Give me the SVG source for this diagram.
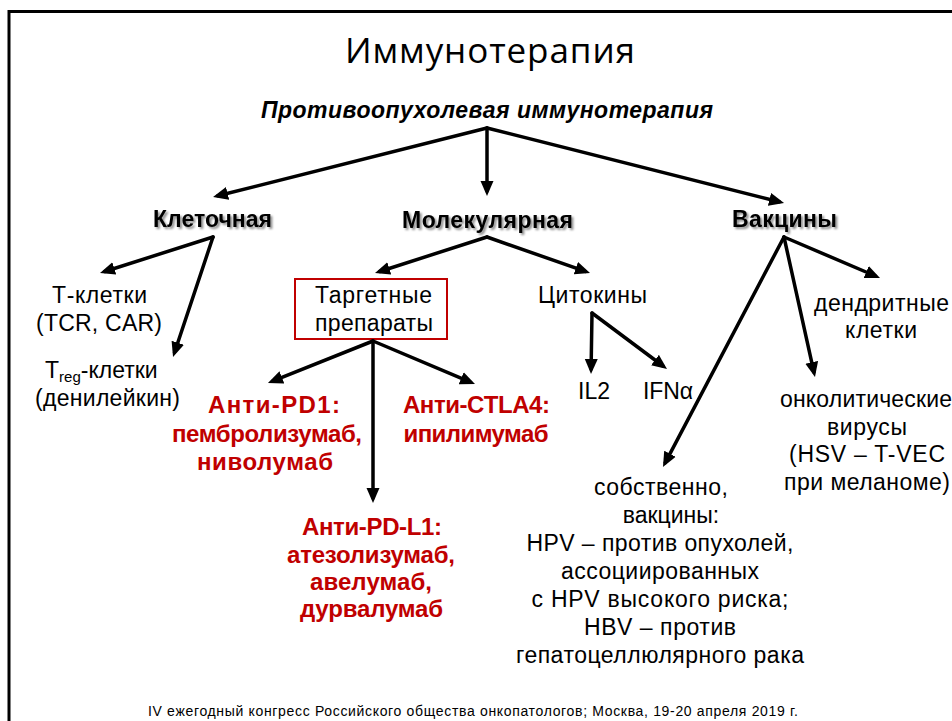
<svg xmlns="http://www.w3.org/2000/svg" width="952" height="721" viewBox="0 0 952 721">
<defs>
<style>
text{font-family:"Liberation Sans",Arial,sans-serif;fill:#000}
.t{font-size:23px;text-anchor:middle}
.h{font-size:23px;font-weight:bold;text-anchor:middle;filter:url(#sh)}
.r{font-size:24px;font-weight:bold;fill:#C00000;text-anchor:middle}
.c{stroke:#000;stroke-width:3.5;fill:none;stroke-linecap:round;marker-end:url(#ah)}
</style>
<marker id="ah" markerUnits="userSpaceOnUse" markerWidth="16" markerHeight="14" refX="10" refY="6.5" orient="auto" viewBox="0 0 16 13">
<path d="M0,0 L15,6.5 L0,13 z" fill="#000"/>
</marker>
<filter id="sh" x="-10%" y="-30%" width="130%" height="170%">
<feDropShadow dx="2" dy="2" stdDeviation="1.2" flood-color="#000" flood-opacity="0.45"/>
</filter>
</defs>
<rect x="0" y="0" width="952" height="721" fill="#fff"/>
<rect x="9" y="11.5" width="980" height="740" fill="none" stroke="#000" stroke-width="3"/>

<g id="title">
<text x="490" y="63" style="font-family:'Open Sans','Liberation Sans',sans-serif;font-size:35px" text-anchor="middle" textLength="290">Иммунотерапия</text>
</g>
<g id="root">
<text x="487" y="118" style="font-size:23px;font-weight:bold;font-style:italic" text-anchor="middle" textLength="452">Противоопухолевая  иммунотерапия</text>
</g>
<g id="cellular"><text class="h" x="212.5" y="227" textLength="119">Клеточная</text></g>
<g id="molecular"><text class="h" x="487.5" y="228" textLength="171">Молекулярная</text></g>
<g id="vaccines"><text class="h" x="784.5" y="227" textLength="105">Вакцины</text></g>

<g id="tcells">
<text class="t" x="99.5" y="303" textLength="95">Т-клетки</text>
<text class="t" x="99" y="331" textLength="126">(TCR, CAR)</text>
</g>
<g id="treg">
<text x="45" y="378" style="font-size:23px">T<tspan font-size="15" dy="4">reg</tspan><tspan dy="-4">-клетки</tspan></text>
<text class="t" x="107.5" y="406" textLength="145">(денилейкин)</text>
</g>
<g id="targeted">
<rect x="295" y="279" width="152" height="60" fill="none" stroke="#C00000" stroke-width="2"/>
<text class="t" x="373.5" y="303" textLength="117">Таргетные</text>
<text class="t" x="374" y="331" textLength="118">препараты</text>
</g>
<g id="cytokines"><text class="t" x="592.5" y="303" textLength="109">Цитокины</text></g>
<g id="il2"><text class="t" x="594" y="399" textLength="32">IL2</text></g>
<g id="ifna"><text class="t" x="668" y="399" textLength="50">IFNα</text></g>
<g id="dendritic">
<text class="t" x="881.5" y="311" textLength="135">дендритные</text>
<text class="t" x="881" y="338" textLength="72">клетки</text>
</g>
<g id="oncolytic">
<text class="t" x="866" y="407" textLength="172">онколитические</text>
<text class="t" x="867" y="435" textLength="80">вирусы</text>
<text class="t" x="867" y="462" textLength="156">(HSV – T-VEC</text>
<text class="t" x="867" y="490" textLength="166">при меланоме)</text>
</g>
<g id="proper">
<text class="t" x="661" y="495" textLength="134">собственно,</text>
<text class="t" x="671" y="523">вакцины:</text>
<text class="t" x="660" y="551" textLength="267">HPV – против опухолей,</text>
<text class="t" x="660" y="579" textLength="198">ассоциированных</text>
<text class="t" x="660" y="607" textLength="257">с HPV высокого риска;</text>
<text class="t" x="660" y="635" textLength="152">HBV – против</text>
<text class="t" x="660" y="663" textLength="288">гепатоцеллюлярного рака</text>
</g>
<g id="pd1">
<text class="r" x="274" y="413" textLength="132">Анти-PD1:</text>
<text class="r" x="267" y="442" textLength="190">пембролизумаб,</text>
<text class="r" x="265" y="470" textLength="136">ниволумаб</text>
</g>
<g id="ctla4">
<text class="r" x="476.5" y="413" textLength="147">Анти-CTLA4:</text>
<text class="r" x="476" y="442" textLength="145">ипилимумаб</text>
</g>
<g id="pdl1">
<text class="r" x="372" y="535" textLength="140">Анти-PD-L1:</text>
<text class="r" x="371" y="563" textLength="168">атезолизумаб,</text>
<text class="r" x="371" y="590" textLength="122">авелумаб,</text>
<text class="r" x="371.5" y="617" textLength="143">дурвалумаб</text>
</g>
<g id="footer">
<text x="473" y="716" style="font-size:14px" text-anchor="middle" textLength="650">IV ежегодный конгресс Российского общества онкопатологов;  Москва, 19-20 апреля 2019 г.</text>
</g>

<g id="connectors">
<path class="c" d="M487,128 L217.9,195.8"/>
<path class="c" d="M487,128 L487,191"/>
<path class="c" d="M487,128 L779.2,201.8"/>
<path class="c" d="M213,237 L104.8,271.5"/>
<path class="c" d="M213,237 L174.6,352.3"/>
<path class="c" d="M487,237 L379.8,271.5"/>
<path class="c" d="M487,237 L585.3,271.4"/>
<path class="c" d="M373,341 L272.6,381.1"/>
<path class="c" d="M373,341 L373,498"/>
<path class="c" d="M373,341 L470.4,382.1"/>
<path class="c" d="M592,313 L591.1,369"/>
<path class="c" d="M592,313 L663,366"/>
<path class="c" d="M784,237 L665.3,462.6"/>
<path class="c" d="M784,237 L813.9,372.1"/>
<path class="c" d="M784,237 L875.4,276"/>
</g>
</svg>
